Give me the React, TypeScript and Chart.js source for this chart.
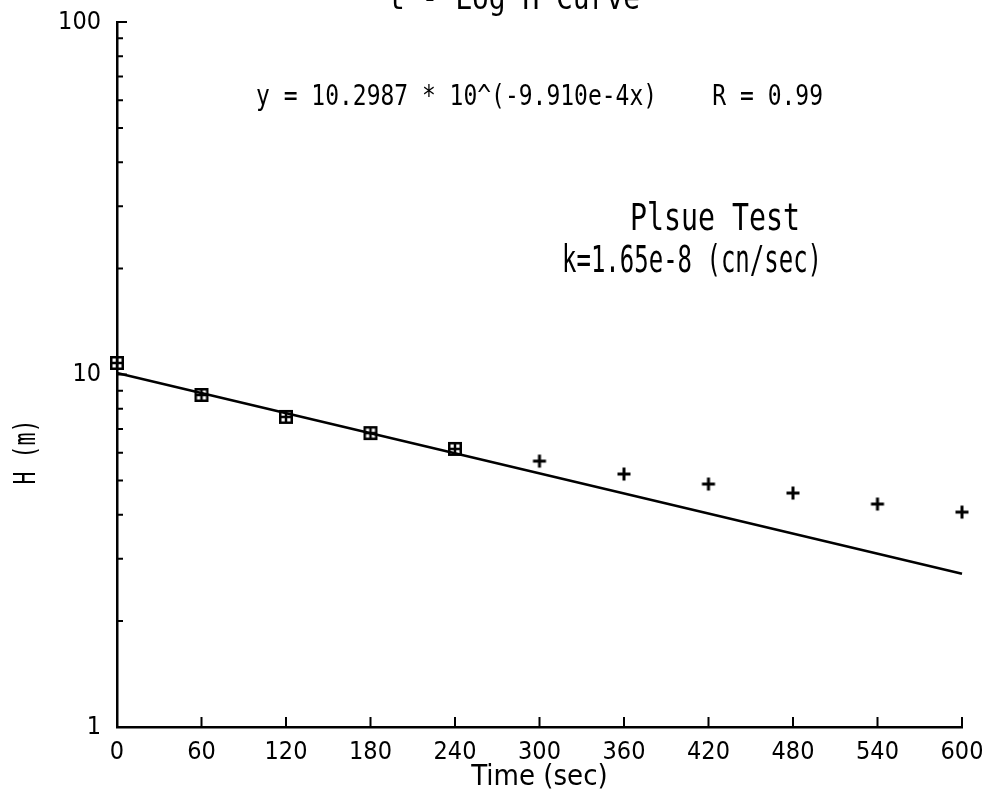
import React, { useEffect, useRef } from "react";
import { Chart, registerables } from "chart.js";

Chart.register(...registerables);

// ---- data ----
const fittedTimes = [0, 60, 120, 180, 240];
const fittedHeads = [10.78, 8.75, 7.58, 6.82, 6.15];
const laterTimes = [300, 360, 420, 480, 540, 600];
const laterHeads = [5.68, 5.22, 4.89, 4.61, 4.29, 4.07];
const fitLineTimes = [0, 600];
const fitLineHeads = [10.1, 2.72];

const xTickValues = [0, 60, 120, 180, 240, 300, 360, 420, 480, 540, 600];
const yTickValues = [1, 2, 3, 4, 5, 6, 7, 8, 9, 10, 20, 30, 40, 50, 60, 70, 80, 90, 100];
const yLabelValues = [1, 10, 100];

const titleText = "t - Log H Curve";
const equationText = "y = 10.2987 * 10^(-9.910e-4x)    R = 0.99";
const testName = "Plsue Test";
const kText = "k=1.65e-8 (cn/sec)";
const xTitle = "Time (sec)";
const yTitle = "H (m)";

const NARROW = "'DejaVu Sans Condensed', 'Liberation Sans Narrow', 'DejaVu Sans', sans-serif";
const MONO = "'DejaVu Sans Mono', 'Liberation Mono', monospace";

function makeBoxPlus(): HTMLCanvasElement {
  const c = document.createElement("canvas");
  c.width = 16;
  c.height = 16;
  const g = c.getContext("2d")!;
  g.strokeStyle = "#000";
  g.lineWidth = 2.5;
  g.strokeRect(2.25, 2.25, 11.5, 11.5);
  g.beginPath();
  g.moveTo(8, 2);
  g.lineTo(8, 14);
  g.moveTo(2, 8);
  g.lineTo(14, 8);
  g.stroke();
  return c;
}

function makePlus(): HTMLCanvasElement {
  const c = document.createElement("canvas");
  c.width = 16;
  c.height = 16;
  const g = c.getContext("2d")!;
  g.strokeStyle = "#000";
  g.lineWidth = 3;
  g.beginPath();
  g.moveTo(8, 1.5);
  g.lineTo(8, 14.5);
  g.moveTo(1.5, 8);
  g.lineTo(14.5, 8);
  g.stroke();
  return c;
}

function drawFitted(
  ctx: CanvasRenderingContext2D,
  text: string,
  cx: number,
  baseline: number,
  width: number,
  size: number,
  rotate = false
) {
  ctx.save();
  ctx.font = `${size}px ${MONO}`;
  const w = ctx.measureText(text).width;
  ctx.fillStyle = "#000";
  ctx.textAlign = "center";
  ctx.textBaseline = "alphabetic";
  if (rotate) {
    ctx.translate(baseline, cx);
    ctx.rotate(-Math.PI / 2);
  } else {
    ctx.translate(cx, baseline);
  }
  ctx.scale(width / w, 1);
  ctx.fillText(text, 0, 0);
  ctx.restore();
}

function zeroPadding(s: any) {
  s.paddingTop = 0;
  s.paddingBottom = 0;
  s.paddingLeft = 0;
  s.paddingRight = 0;
}

const decorPlugin = {
  id: "decor",
  afterDraw(chart: any) {
    const ctx: CanvasRenderingContext2D = chart.ctx;
    const xs = chart.scales.x;
    const ys = chart.scales.y;
    const { left, bottom } = chart.chartArea;
    ctx.save();
    ctx.strokeStyle = "#000";
    ctx.lineWidth = 2;
    ctx.beginPath();
    xTickValues.forEach((v) => {
      if (v === xTickValues[0]) return;
      const px = xs.getPixelForValue(v);
      ctx.moveTo(px, bottom);
      ctx.lineTo(px, bottom - 10);
    });
    yTickValues.forEach((v) => {
      if (v === yTickValues[0]) return;
      const py = ys.getPixelForValue(v);
      const len = yLabelValues.includes(v) ? 10 : 6;
      ctx.moveTo(left, py);
      ctx.lineTo(left + len, py);
    });
    ctx.stroke();
    ctx.restore();

    // title (cut off by the top edge, as in the reference)
    drawFitted(ctx, titleText, 514, 9, 252, 32);
    // annotations placed in data coordinates
    drawFitted(ctx, equationText, xs.getPixelForValue(300), ys.getPixelForValue(58.2), 567, 29);
    drawFitted(ctx, testName, xs.getPixelForValue(424.6), ys.getPixelForValue(25.7), 170, 37);
    drawFitted(ctx, kText, xs.getPixelForValue(408.3), ys.getPixelForValue(19.5), 260, 37);
    // y-axis title
    drawFitted(ctx, yTitle, ys.getPixelForValue(6.03), 35, 65, 31, true);
  },
};

export default function App() {
  const ref = useRef<HTMLCanvasElement | null>(null);

  useEffect(() => {
    if (!ref.current) return;
    const boxPlus = makeBoxPlus();
    const plus = makePlus();
    const chart = new Chart(ref.current, {
      type: "scatter",
      data: {
        datasets: [
          {
            label: "Fit",
            data: fitLineTimes.map((x, i) => ({ x, y: fitLineHeads[i] })),
            showLine: true,
            borderColor: "#000",
            borderWidth: 2.5,
            pointRadius: 0,
            clip: false,
          } as any,
          {
            label: "Fitted points",
            data: fittedTimes.map((x, i) => ({ x, y: fittedHeads[i] })),
            pointStyle: boxPlus as any,
            pointRadius: 8,
            clip: false,
          } as any,
          {
            label: "Later points",
            data: laterTimes.map((x, i) => ({ x, y: laterHeads[i] })),
            pointStyle: plus as any,
            pointRadius: 8,
            clip: false,
          } as any,
        ],
      },
      options: {
        responsive: false,
        animation: false,
        devicePixelRatio: 1,
        layout: { autoPadding: false, padding: { top: 22, right: 20, bottom: 0, left: 0 } },
        plugins: {
          legend: { display: false },
          tooltip: { enabled: false },
          title: { display: false },
        },
        scales: {
          x: {
            type: "linear",
            position: "bottom",
            min: 0,
            max: 600,
            afterBuildTicks: (s: any) => {
              s.ticks = xTickValues.map((v) => ({ value: v }));
            },
            afterFit: (s: any) => {
              s.height = 72;
              zeroPadding(s);
            },
            grid: { display: false, drawTicks: false },
            border: { display: true, color: "#000", width: 2.5 },
            ticks: {
              color: "#000",
              font: { family: NARROW, size: 25 },
              padding: 10,
              autoSkip: false,
              maxRotation: 0,
              callback: (v: any) => String(v),
            },
            title: {
              display: true,
              text: xTitle,
              color: "#000",
              font: { family: NARROW, size: 29 },
              padding: { top: 0, bottom: 4 },
            },
          },
          y: {
            type: "logarithmic",
            position: "left",
            min: 1,
            max: 100,
            afterBuildTicks: (s: any) => {
              s.ticks = yTickValues.map((v) => ({ value: v }));
            },
            afterFit: (s: any) => {
              s.width = 117;
              zeroPadding(s);
            },
            grid: { display: false, drawTicks: false },
            border: { display: true, color: "#000", width: 2.5 },
            ticks: {
              color: "#000",
              font: { family: NARROW, size: 25 },
              padding: 16,
              autoSkip: false,
              callback: (v: any) => (yLabelValues.includes(Number(v)) ? String(v) : ""),
            },
          },
        },
      },
      plugins: [decorPlugin],
    });
    return () => chart.destroy();
  }, []);

  return (
    <div style={{ position: "absolute", left: 0, top: 0, width: 982, height: 799, background: "#fff" }}>
      <canvas ref={ref} width={982} height={799} style={{ display: "block" }} />
    </div>
  );
}
